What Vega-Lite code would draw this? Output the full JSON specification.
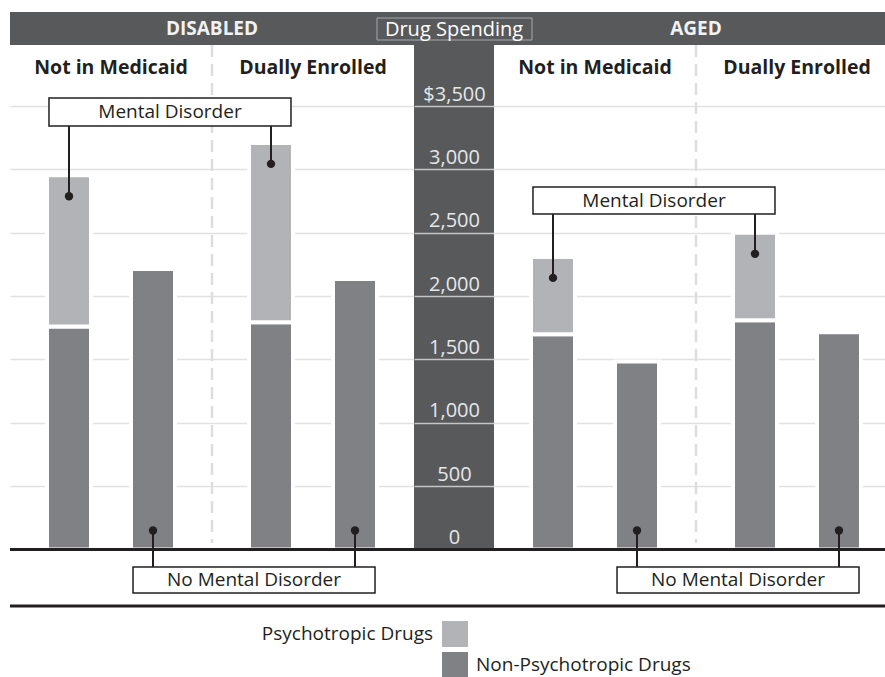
{
  "$schema": "https://vega.github.io/schema/vega-lite/v6.json",
  "padding": {"left": 8, "top": 0, "right": 0, "bottom": 0},
  "bounds": "flush",
  "spacing": 0,
  "config": {
    "font": "Open Sans",
    "view": {"stroke": null},
    "text": {"font": "Open Sans", "color": "#231f20"}
  },
  "resolve": {
    "scale": {"x": "independent", "y": "independent", "xOffset": "independent", "color": "shared"},
    "axis": {"y": "independent"}
  },
  "datasets": {
    "spending": [
      {"population": "Disabled", "enrollment": "Not in Medicaid", "condition": "Mental Disorder", "drug": "Non-Psychotropic Drugs", "spending": 1760},
      {"population": "Disabled", "enrollment": "Not in Medicaid", "condition": "Mental Disorder", "drug": "Psychotropic Drugs", "spending": 1195},
      {"population": "Disabled", "enrollment": "Not in Medicaid", "condition": "No Mental Disorder", "drug": "Non-Psychotropic Drugs", "spending": 2215},
      {"population": "Disabled", "enrollment": "Dually Enrolled", "condition": "Mental Disorder", "drug": "Non-Psychotropic Drugs", "spending": 1795},
      {"population": "Disabled", "enrollment": "Dually Enrolled", "condition": "Mental Disorder", "drug": "Psychotropic Drugs", "spending": 1415},
      {"population": "Disabled", "enrollment": "Dually Enrolled", "condition": "No Mental Disorder", "drug": "Non-Psychotropic Drugs", "spending": 2135},
      {"population": "Aged", "enrollment": "Not in Medicaid", "condition": "Mental Disorder", "drug": "Non-Psychotropic Drugs", "spending": 1700},
      {"population": "Aged", "enrollment": "Not in Medicaid", "condition": "Mental Disorder", "drug": "Psychotropic Drugs", "spending": 610},
      {"population": "Aged", "enrollment": "Not in Medicaid", "condition": "No Mental Disorder", "drug": "Non-Psychotropic Drugs", "spending": 1485},
      {"population": "Aged", "enrollment": "Dually Enrolled", "condition": "Mental Disorder", "drug": "Non-Psychotropic Drugs", "spending": 1810},
      {"population": "Aged", "enrollment": "Dually Enrolled", "condition": "Mental Disorder", "drug": "Psychotropic Drugs", "spending": 690},
      {"population": "Aged", "enrollment": "Dually Enrolled", "condition": "No Mental Disorder", "drug": "Non-Psychotropic Drugs", "spending": 1715}
    ]
  },
  "hconcat": [
    {
      "width": 404,
      "height": 677,
      "layer": [
        {
          "data": {"values": [{}]},
          "mark": {"type": "rect", "color": "#58595b"},
          "encoding": {"x": {"value": 0}, "x2": {"value": "width"}, "y": {"value": 12}, "y2": {"value": 45}}
        },
        {
          "data": {"name": "spending"},
          "transform": [{"filter": "datum.population === 'Disabled'"}],
          "mark": {"type": "bar", "stroke": "white", "strokeWidth": 4},
          "encoding": {
            "x": {"field": "enrollment", "type": "nominal", "axis": null,
                  "scale": {"domain": ["Not in Medicaid", "Dually Enrolled"], "paddingInner": 0, "paddingOuter": 0}},
            "xOffset": {"field": "condition", "type": "nominal",
                  "scale": {"domain": ["Mental Disorder", "No Mental Disorder"], "paddingInner": 0.476, "paddingOuter": 0.4405}},
            "y": {"field": "spending", "type": "quantitative", "aggregate": "sum", "stack": "zero",
                  "scale": {"domain": [-1006.6, 4338.1], "nice": false, "zero": false},
                  "axis": {"grid": true, "gridColor": "#e1e1e2", "gridWidth": 1.5, "labels": false, "ticks": false, "domain": false, "title": null,
                           "values": [500, 1000, 1500, 2000, 2500, 3000, 3500]}},
            "color": {"field": "drug", "type": "nominal",
                  "scale": {"domain": ["Psychotropic Drugs", "Non-Psychotropic Drugs"], "range": ["#b1b3b6", "#808184"]},
                  "legend": {"orient": "none", "legendX": 432, "legendY": 621, "direction": "vertical", "title": null,
                             "symbolType": "square", "symbolSize": 676, "symbolStrokeWidth": 0, "symbolOpacity": 1,
                             "rowPadding": 5, "labelFontSize": 19, "labelFont": "Open Sans", "labelColor": "#231f20",
                             "labelOffset": 8, "padding": 0, "labelLimit": 0,
                             "labelExpr": "datum.label === 'Psychotropic Drugs' ? '' : datum.label"}},
            "order": {"field": "drug", "sort": "ascending"}
          }
        },
        {
          "data": {"values": [{}]},
          "mark": {"type": "rule", "color": "#dcdddf", "strokeWidth": 2.5, "strokeDash": [12, 7]},
          "encoding": {"x": {"datum": "Dually Enrolled", "type": "nominal", "bandPosition": 0}, "y": {"value": 45}, "y2": {"value": 543}}
        },
        {
          "data": {"values": [{}]},
          "mark": {"type": "rule", "color": "#231f20", "strokeWidth": 3},
          "encoding": {"x": {"value": 0}, "x2": {"value": "width"}, "y": {"datum": 0, "type": "quantitative"}}
        },
        {
          "data": {"values": [{}]},
          "mark": {"type": "rule", "color": "#231f20", "strokeWidth": 3},
          "encoding": {"x": {"value": 0}, "x2": {"value": "width"}, "y": {"value": 606}}
        },
        {
          "data": {"name": "spending"},
          "transform": [
            {"filter": "datum.population === 'Disabled' && datum.condition === 'Mental Disorder'"},
            {"aggregate": [{"op": "sum", "field": "spending", "as": "total"}], "groupby": ["enrollment", "condition"]}
          ],
          "layer": [
            {"mark": {"type": "rule", "color": "#231f20", "strokeWidth": 2, "yOffset": 21},
             "encoding": {"x": {"field": "enrollment", "type": "nominal"}, "xOffset": {"field": "condition", "type": "nominal"},
                          "y": {"field": "total", "type": "quantitative"}, "y2": {"value": 126}}},
            {"mark": {"type": "point", "filled": true, "size": 70, "color": "#231f20", "opacity": 1, "yOffset": 21},
             "encoding": {"x": {"field": "enrollment", "type": "nominal"}, "xOffset": {"field": "condition", "type": "nominal"},
                          "y": {"field": "total", "type": "quantitative"}}}
          ]
        },
        {
          "data": {"name": "spending"},
          "transform": [{"filter": "datum.population === 'Disabled' && datum.condition === 'No Mental Disorder'"}],
          "layer": [
            {"mark": {"type": "rule", "color": "#231f20", "strokeWidth": 2, "yOffset": -19},
             "encoding": {"x": {"field": "enrollment", "type": "nominal"}, "xOffset": {"field": "condition", "type": "nominal"},
                          "y": {"datum": 0, "type": "quantitative"}, "y2": {"value": 567}}},
            {"mark": {"type": "point", "filled": true, "size": 70, "color": "#231f20", "opacity": 1, "yOffset": -19},
             "encoding": {"x": {"field": "enrollment", "type": "nominal"}, "xOffset": {"field": "condition", "type": "nominal"},
                          "y": {"datum": 0, "type": "quantitative"}}}
          ]
        },
        {
          "data": {"values": [{}]},
          "mark": {"type": "rect", "fill": "white", "stroke": "#231f20", "strokeWidth": 1.5},
          "encoding": {"x": {"datum": "Not in Medicaid", "type": "nominal", "bandPosition": 0.193},
                       "x2": {"datum": "Dually Enrolled", "bandPosition": 0.391},
                       "y": {"value": 98}, "y2": {"value": 126}}
        },
        {
          "data": {"values": [{}]},
          "mark": {"type": "text", "text": "Mental Disorder", "fontSize": 19, "baseline": "middle", "align": "center"},
          "encoding": {"x": {"datum": "Not in Medicaid", "type": "nominal", "bandPosition": 0.792}, "y": {"value": 112}}
        },
        {
          "data": {"values": [{}]},
          "mark": {"type": "rect", "fill": "white", "stroke": "#231f20", "strokeWidth": 1.5},
          "encoding": {"x": {"datum": "Not in Medicaid", "type": "nominal", "bandPosition": 0.609},
                       "x2": {"datum": "Dually Enrolled", "bandPosition": 0.807},
                       "y": {"value": 567}, "y2": {"value": 593}}
        },
        {
          "data": {"values": [{}]},
          "mark": {"type": "text", "text": "No Mental Disorder", "fontSize": 19, "baseline": "middle", "align": "center"},
          "encoding": {"x": {"datum": "Dually Enrolled", "type": "nominal", "bandPosition": 0.208}, "y": {"value": 580}}
        },
        {
          "data": {"name": "spending"},
          "transform": [{"filter": "datum.population === 'Disabled'"}, {"aggregate": [{"op": "count", "as": "n"}], "groupby": ["enrollment"]}],
          "mark": {"type": "text", "fontSize": 19.5, "fontWeight": "bold", "baseline": "alphabetic", "align": "center"},
          "encoding": {"x": {"field": "enrollment", "type": "nominal"}, "y": {"value": 74}, "text": {"field": "enrollment"}}
        },
        {
          "data": {"values": [{}]},
          "mark": {"type": "text", "text": "DISABLED", "fontSize": 19, "fontWeight": "bold", "baseline": "alphabetic", "align": "center", "color": "#f1f2f2"},
          "encoding": {"x": {"datum": "Dually Enrolled", "type": "nominal", "bandPosition": 0}, "y": {"value": 35}}
        }
      ]
    },
    {
      "width": 80,
      "height": 677,
      "data": {"values": [{}]},
      "layer": [
        {
          "mark": {"type": "rect", "color": "#58595b"},
          "encoding": {
            "x": {"value": 0}, "x2": {"value": "width"},
            "y": {"datum": 4243.3, "type": "quantitative",
                  "scale": {"domain": [-1006.6, 4338.1], "nice": false, "zero": false},
                  "axis": {"orient": "left", "grid": true, "zindex": 1, "domain": false, "ticks": false, "tickSize": 0,
                           "gridColor": {"condition": {"test": "datum.value === 0", "value": "transparent"}, "value": "#c4c5c7"},
                           "gridWidth": 1.5, "title": null,
                           "values": [0, 500, 1000, 1500, 2000, 2500, 3000, 3500],
                           "labelPadding": -40, "labelAlign": "center", "labelBaseline": "alphabetic", "labelOffset": -6,
                           "labelColor": "#e6e7e8", "labelFontSize": 20, "labelFont": "Open Sans", "labelOverlap": false, "labelFlush": false,
                           "labelExpr": "datum.value === 3500 ? '$3,500' : format(datum.value, ',')"}},
            "y2": {"datum": 0}
          }
        },
        {
          "mark": {"type": "rule", "color": "#231f20", "strokeWidth": 3},
          "encoding": {"x": {"value": 0}, "x2": {"value": "width"}, "y": {"datum": 0, "type": "quantitative"}}
        },
        {
          "mark": {"type": "rule", "color": "#231f20", "strokeWidth": 3},
          "encoding": {"x": {"value": 0}, "x2": {"value": "width"}, "y": {"value": 606}}
        },
        {
          "mark": {"type": "text", "text": "Psychotropic Drugs", "fontSize": 19, "align": "right", "baseline": "middle"},
          "encoding": {"x": {"value": 19}, "y": {"value": 634}}
        }
      ]
    },
    {
      "width": 393,
      "height": 677,
      "layer": [
        {
          "data": {"values": [{}]},
          "mark": {"type": "rect", "color": "#58595b"},
          "encoding": {"x": {"value": 0}, "x2": {"value": "width"}, "y": {"value": 12}, "y2": {"value": 45}}
        },
        {
          "data": {"name": "spending"},
          "transform": [{"filter": "datum.population === 'Aged'"}],
          "mark": {"type": "bar", "stroke": "white", "strokeWidth": 4},
          "encoding": {
            "x": {"field": "enrollment", "type": "nominal", "axis": null,
                  "scale": {"domain": ["Not in Medicaid", "Dually Enrolled"], "range": [0, 404], "paddingInner": 0, "paddingOuter": 0}},
            "xOffset": {"field": "condition", "type": "nominal",
                  "scale": {"domain": ["Mental Disorder", "No Mental Disorder"], "paddingInner": 0.476, "paddingOuter": 0.4405}},
            "y": {"field": "spending", "type": "quantitative", "aggregate": "sum", "stack": "zero",
                  "scale": {"domain": [-1006.6, 4338.1], "nice": false, "zero": false},
                  "axis": {"grid": true, "gridColor": "#e1e1e2", "gridWidth": 1.5, "labels": false, "ticks": false, "domain": false, "title": null,
                           "values": [500, 1000, 1500, 2000, 2500, 3000, 3500]}},
            "color": {"field": "drug", "type": "nominal",
                  "scale": {"domain": ["Psychotropic Drugs", "Non-Psychotropic Drugs"], "range": ["#b1b3b6", "#808184"]},
                  "legend": {"orient": "none", "legendX": 432, "legendY": 621, "direction": "vertical", "title": null,
                             "symbolType": "square", "symbolSize": 676, "symbolStrokeWidth": 0, "symbolOpacity": 1,
                             "rowPadding": 5, "labelFontSize": 19, "labelFont": "Open Sans", "labelColor": "#231f20",
                             "labelOffset": 8, "padding": 0, "labelLimit": 0,
                             "labelExpr": "datum.label === 'Psychotropic Drugs' ? '' : datum.label"}},
            "order": {"field": "drug", "sort": "ascending"}
          }
        },
        {
          "data": {"values": [{}]},
          "mark": {"type": "rule", "color": "#dcdddf", "strokeWidth": 2.5, "strokeDash": [12, 7]},
          "encoding": {"x": {"datum": "Dually Enrolled", "type": "nominal", "bandPosition": 0}, "y": {"value": 45}, "y2": {"value": 543}}
        },
        {
          "data": {"values": [{}]},
          "mark": {"type": "rule", "color": "#231f20", "strokeWidth": 3},
          "encoding": {"x": {"value": 0}, "x2": {"value": "width"}, "y": {"datum": 0, "type": "quantitative"}}
        },
        {
          "data": {"values": [{}]},
          "mark": {"type": "rule", "color": "#231f20", "strokeWidth": 3},
          "encoding": {"x": {"value": 0}, "x2": {"value": "width"}, "y": {"value": 606}}
        },
        {
          "data": {"name": "spending"},
          "transform": [
            {"filter": "datum.population === 'Aged' && datum.condition === 'Mental Disorder'"},
            {"aggregate": [{"op": "sum", "field": "spending", "as": "total"}], "groupby": ["enrollment", "condition"]}
          ],
          "layer": [
            {"mark": {"type": "rule", "color": "#231f20", "strokeWidth": 2, "yOffset": 21},
             "encoding": {"x": {"field": "enrollment", "type": "nominal"}, "xOffset": {"field": "condition", "type": "nominal"},
                          "y": {"field": "total", "type": "quantitative"}, "y2": {"value": 214}}},
            {"mark": {"type": "point", "filled": true, "size": 70, "color": "#231f20", "opacity": 1, "yOffset": 21},
             "encoding": {"x": {"field": "enrollment", "type": "nominal"}, "xOffset": {"field": "condition", "type": "nominal"},
                          "y": {"field": "total", "type": "quantitative"}}}
          ]
        },
        {
          "data": {"name": "spending"},
          "transform": [{"filter": "datum.population === 'Aged' && datum.condition === 'No Mental Disorder'"}],
          "layer": [
            {"mark": {"type": "rule", "color": "#231f20", "strokeWidth": 2, "yOffset": -19},
             "encoding": {"x": {"field": "enrollment", "type": "nominal"}, "xOffset": {"field": "condition", "type": "nominal"},
                          "y": {"datum": 0, "type": "quantitative"}, "y2": {"value": 567}}},
            {"mark": {"type": "point", "filled": true, "size": 70, "color": "#231f20", "opacity": 1, "yOffset": -19},
             "encoding": {"x": {"field": "enrollment", "type": "nominal"}, "xOffset": {"field": "condition", "type": "nominal"},
                          "y": {"datum": 0, "type": "quantitative"}}}
          ]
        },
        {
          "data": {"values": [{}]},
          "mark": {"type": "rect", "fill": "white", "stroke": "#231f20", "strokeWidth": 1.5},
          "encoding": {"x": {"datum": "Not in Medicaid", "type": "nominal", "bandPosition": 0.193},
                       "x2": {"datum": "Dually Enrolled", "bandPosition": 0.391},
                       "y": {"value": 187}, "y2": {"value": 214}}
        },
        {
          "data": {"values": [{}]},
          "mark": {"type": "text", "text": "Mental Disorder", "fontSize": 19, "baseline": "middle", "align": "center"},
          "encoding": {"x": {"datum": "Not in Medicaid", "type": "nominal", "bandPosition": 0.792}, "y": {"value": 200.5}}
        },
        {
          "data": {"values": [{}]},
          "mark": {"type": "rect", "fill": "white", "stroke": "#231f20", "strokeWidth": 1.5},
          "encoding": {"x": {"datum": "Not in Medicaid", "type": "nominal", "bandPosition": 0.609},
                       "x2": {"datum": "Dually Enrolled", "bandPosition": 0.807},
                       "y": {"value": 567}, "y2": {"value": 593}}
        },
        {
          "data": {"values": [{}]},
          "mark": {"type": "text", "text": "No Mental Disorder", "fontSize": 19, "baseline": "middle", "align": "center"},
          "encoding": {"x": {"datum": "Dually Enrolled", "type": "nominal", "bandPosition": 0.208}, "y": {"value": 580}}
        },
        {
          "data": {"name": "spending"},
          "transform": [{"filter": "datum.population === 'Aged'"}, {"aggregate": [{"op": "count", "as": "n"}], "groupby": ["enrollment"]}],
          "mark": {"type": "text", "fontSize": 19.5, "fontWeight": "bold", "baseline": "alphabetic", "align": "center"},
          "encoding": {"x": {"field": "enrollment", "type": "nominal"}, "y": {"value": 74}, "text": {"field": "enrollment"}}
        },
        {
          "data": {"values": [{}]},
          "mark": {"type": "text", "text": "AGED", "fontSize": 19, "fontWeight": "bold", "baseline": "alphabetic", "align": "center", "color": "#f1f2f2"},
          "encoding": {"x": {"datum": "Dually Enrolled", "type": "nominal", "bandPosition": 0}, "y": {"value": 35}}
        },
        {
          "data": {"values": [{}]},
          "mark": {"type": "rect", "fill": null, "fillOpacity": 0, "stroke": "#a7a9ac", "strokeWidth": 1},
          "encoding": {"x": {"value": -117}, "x2": {"value": 38}, "y": {"value": 18}, "y2": {"value": 40}}
        },
        {
          "data": {"values": [{}]},
          "mark": {"type": "text", "text": "Drug Spending", "fontSize": 20, "baseline": "alphabetic", "align": "center", "color": "#ffffff"},
          "encoding": {"x": {"value": -40}, "y": {"value": 36}}
        }
      ]
    }
  ]
}
